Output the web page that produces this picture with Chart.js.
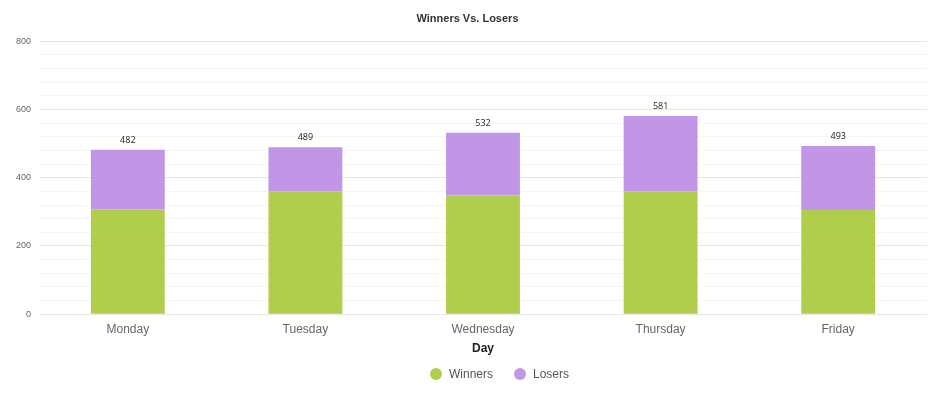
<!DOCTYPE html>
<html>
<head>
<meta charset="utf-8">
<script src="https://cdn.jsdelivr.net/npm/chart.js@4"></script>
<style>
    body { margin: 0; background: #fff; }
    #wrap { width: 934px; height: 399px; }
</style>
</head>
<body>
<div id="wrap"><canvas id="barChartCanvas" width="934" height="399"></canvas></div>
<script>
let days = ['Monday', 'Tuesday', 'Wednesday', 'Thursday', 'Friday'];
let winners = [307, 360, 348, 360, 305];
let losers = [175, 129, 184, 221, 188];
let totals = [482, 489, 532, 581, 493];

// total above each stack
let totalLabels = {
    id: 'totalLabels',
    afterDatasetsDraw: function (chart) {
        let ctx = chart.ctx;
        let meta = chart.getDatasetMeta(1);
        ctx.save();
        ctx.font = '9px "Open Sans", Arial, sans-serif';
        ctx.fillStyle = '#222';
        ctx.textAlign = 'center';
        ctx.textBaseline = 'bottom';
        meta.data.forEach(function (bar, i) {
            ctx.fillText(totals[i], bar.x, bar.y - 5);
        });
        ctx.restore();
    }
};

// legend with wider spacing than the built-in one
let customLegend = {
    id: 'customLegend',
    afterDraw: function (chart) {
        let ctx = chart.ctx;
        ctx.save();
        ctx.font = '12px Arial, sans-serif';
        ctx.textBaseline = 'middle';
        let x = 430;
        let y = 374;
        chart.data.datasets.forEach(function (ds) {
            ctx.fillStyle = ds.backgroundColor;
            ctx.beginPath();
            ctx.arc(x + 6, y, 6, 0, Math.PI * 2);
            ctx.fill();
            ctx.fillStyle = '#555';
            ctx.fillText(ds.label, x + 19, y + 1);
            x += 19 + ctx.measureText(ds.label).width + 21;
        });
        ctx.restore();
    }
};

let ctx = document.getElementById('barChartCanvas').getContext('2d');
window.barChart = new Chart(ctx, {
    type: 'bar',
    data: {
        labels: days,
        datasets: [{
            label: 'Winners',
            data: winners,
            backgroundColor: 'rgb(176, 206, 76)'
        }, {
            label: 'Losers',
            data: losers,
            backgroundColor: 'rgb(193, 150, 230)'
        }]
    },
    options: {
        responsive: false,
        animation: false,
        layout: { padding: { left: 8, right: 7, top: 0, bottom: 43 } },
        datasets: {
            bar: { barPercentage: 0.416, categoryPercentage: 1 }
        },
        scales: {
            x: {
                stacked: true,
                grid: { display: false },
                border: { display: false },
                ticks: { color: '#666', font: { size: 12, family: 'Arial' }, padding: 0 },
                title: {
                    display: true,
                    text: 'Day',
                    color: '#222',
                    font: { size: 12, weight: 'bold', family: 'Arial' },
                    padding: { top: 5, bottom: 0 }
                }
            },
            y: {
                stacked: true,
                min: 0,
                max: 800,
                border: { display: false },
                ticks: {
                    stepSize: 40,
                    autoSkip: false,
                    color: '#666',
                    font: { size: 9, family: 'Arial' },
                    padding: 8,
                    callback: function (v) { return v % 200 === 0 ? v : ''; }
                },
                grid: {
                    drawTicks: false,
                    color: function (c) { return c.tick && c.tick.value % 200 === 0 ? '#e6e6e6' : '#f5f5f5'; }
                }
            }
        },
        plugins: {
            title: {
                display: true,
                text: 'Winners Vs. Losers',
                color: '#333',
                font: { size: 11, weight: 'bold', family: 'Arial' },
                padding: { top: 12, bottom: 16 }
            },
            legend: { display: false },
            tooltip: { enabled: false }
        }
    },
    plugins: [totalLabels, customLegend]
});
</script>
</body>
</html>
